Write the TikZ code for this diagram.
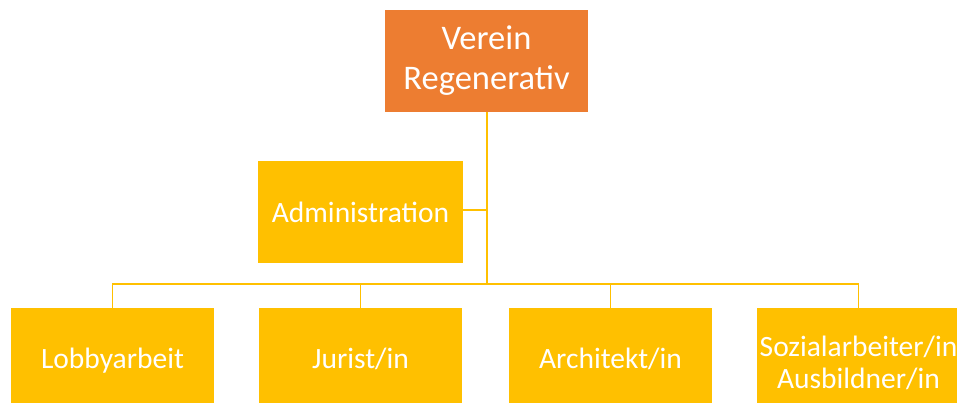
\documentclass[tikz,border=0pt]{standalone}
\usepackage{fontspec}
\setmainfont{Carlito}
\definecolor{boxorange}{HTML}{ED7D31}
\definecolor{boxgold}{HTML}{FFC000}
\definecolor{linegold}{HTML}{FFC000}
\begin{document}
\begin{tikzpicture}[x=1pt,y=1pt,
  orgbox/.style={rectangle, fill=boxgold, text=white, minimum width=203pt, minimum height=106pt, inner sep=0pt, align=center, font=\fontsize{29.5}{32}\selectfont},
  single/.style={text height=22.1pt, text depth=7.4pt},
  topbox/.style={orgbox, minimum height=102pt, fill=boxorange, font=\fontsize{34.5}{40}\selectfont},
  conn/.style={draw=linegold, line width=1.8pt}]
\useasboundingbox (0,0) rectangle (957,403);
\clip (0,0) rectangle (957,403);
\fill[white] (0,0) rectangle (957,403);
\node[topbox] (top) at (486.5,342) {Verein\\Regenerativ};
\node[orgbox, text height=28.1pt, text depth=7.4pt, minimum width=205pt, minimum height=102pt] (adm) at (360.5,191) {Administration};
\node[orgbox, single] (b1) at (112.5,42) {Lobbyarbeit};
\node[orgbox, single] (b2) at (360.5,42) {Jurist/in};
\node[orgbox, single] (b3) at (610.5,42) {Architekt/in};
\node[orgbox, minimum height=110pt] (b4) at (858.5,40) {Sozialarbeiter/in\\Ausbildner/in};
\coordinate (bus) at (487,119);
\coordinate (admj) at (487,193);
\draw[conn] (top.south -| bus) -- (bus);
\draw[conn] (adm.east |- admj) -- (admj);
\draw[conn] (b1.north) -- (b1.north |- bus) -- (b4.north |- bus) -- (b4.north);
\draw[conn] (b2.north) -- (b2.north |- bus);
\draw[conn] (b3.north) -- (b3.north |- bus);
\end{tikzpicture}
\end{document}
